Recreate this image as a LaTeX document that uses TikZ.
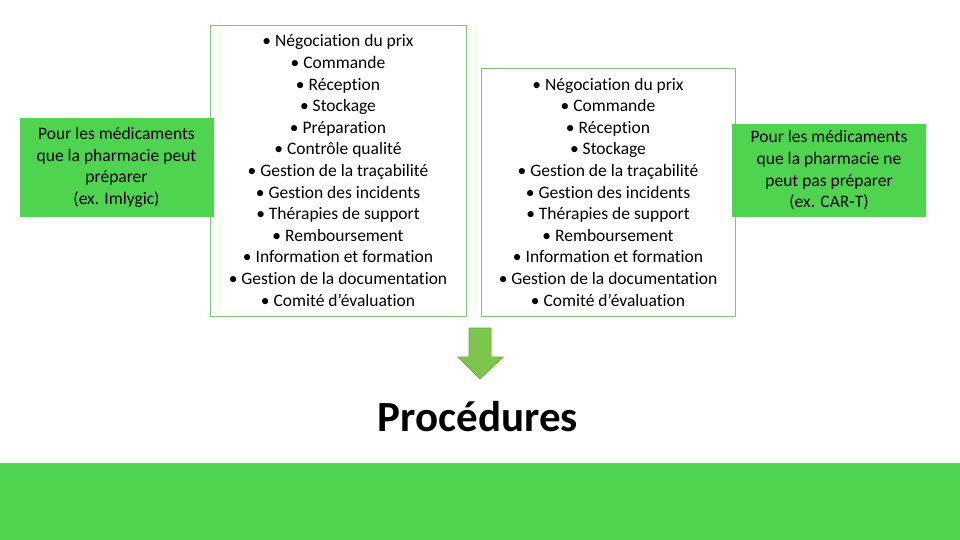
\documentclass[tikz,border=0pt]{standalone}
\usepackage{fontspec}
\setmainfont{Carlito}[Ligatures=NoCommon]
\definecolor{mygreen}{RGB}{79,212,79}
\definecolor{myframe}{RGB}{130,196,120}
\definecolor{myarrow}{RGB}{124,198,76}
\definecolor{myarrowedge}{RGB}{104,172,62}
\usetikzlibrary{positioning}

\begin{document}
\begin{tikzpicture}[x=1pt,y=-1pt,
        every node/.style={inner sep=0pt,align=center,text=black},
        greenbox/.style={fill=mygreen,minimum width=194pt,font=\fontsize{17.5}{21.6}\selectfont},
        listbox/.style={draw=myframe,line width=0.8pt,fill=white,font=\fontsize{17.5}{21.6}\selectfont},
        bigtitle/.style={font=\fontsize{43}{48}\selectfont\bfseries}
        ]
        \useasboundingbox (0,0) rectangle (960,540);

        % the two lists
        \node[listbox,minimum width=256pt,minimum height=291pt] (list1) at (338,170.5)
        {\textbullet~Négociation du prix\\ \textbullet~Commande\\ \textbullet~Réception\\
         \textbullet~Stockage\\ \textbullet~Préparation\\ \textbullet~Contrôle qualité\\
         \textbullet~Gestion de la traçabilité\\ \textbullet~Gestion des incidents\\
         \textbullet~Thérapies de support\\ \textbullet~Remboursement\\
         \textbullet~Information et formation\\ \textbullet~Gestion de la documentation\\
         \textbullet~Comité d’évaluation};
        \node[listbox,minimum width=254pt,minimum height=248pt] (list2) at (608,192)
        {\textbullet~Négociation du prix\\ \textbullet~Commande\\ \textbullet~Réception\\
         \textbullet~Stockage\\ \textbullet~Gestion de la traçabilité\\
         \textbullet~Gestion des incidents\\ \textbullet~Thérapies de support\\
         \textbullet~Remboursement\\ \textbullet~Information et formation\\
         \textbullet~Gestion de la documentation\\ \textbullet~Comité d’évaluation};

        % the two green boxes
        \node[greenbox,minimum height=99pt] (prep) at (116.5,167.5)
        {Pour les médicaments\\ que la pharmacie peut\\ préparer\\ (ex. Imlygic)};
        \node[greenbox,minimum height=93pt] (noprep) at (829,170.5)
        {Pour les médicaments\\ que la pharmacie ne\\ peut pas préparer\\ (ex. CAR-T)};

        % the arrow and the title
        \draw[fill=myarrow,draw=myarrowedge,line width=0.8pt,line join=miter]
          (469,328) -- (491,328) -- (491,357) -- (503,357) -- (480,379)
          -- (458,357) -- (469,357) -- cycle;
        \node[bigtitle] (proc) at (478,417) {Procédures};

        % the bottom band
        \fill[mygreen] (0,463) rectangle (960,540);
        \draw[myframe,line width=1pt] (0,463.5) -- (960,463.5);
\end{tikzpicture}
\end{document}
